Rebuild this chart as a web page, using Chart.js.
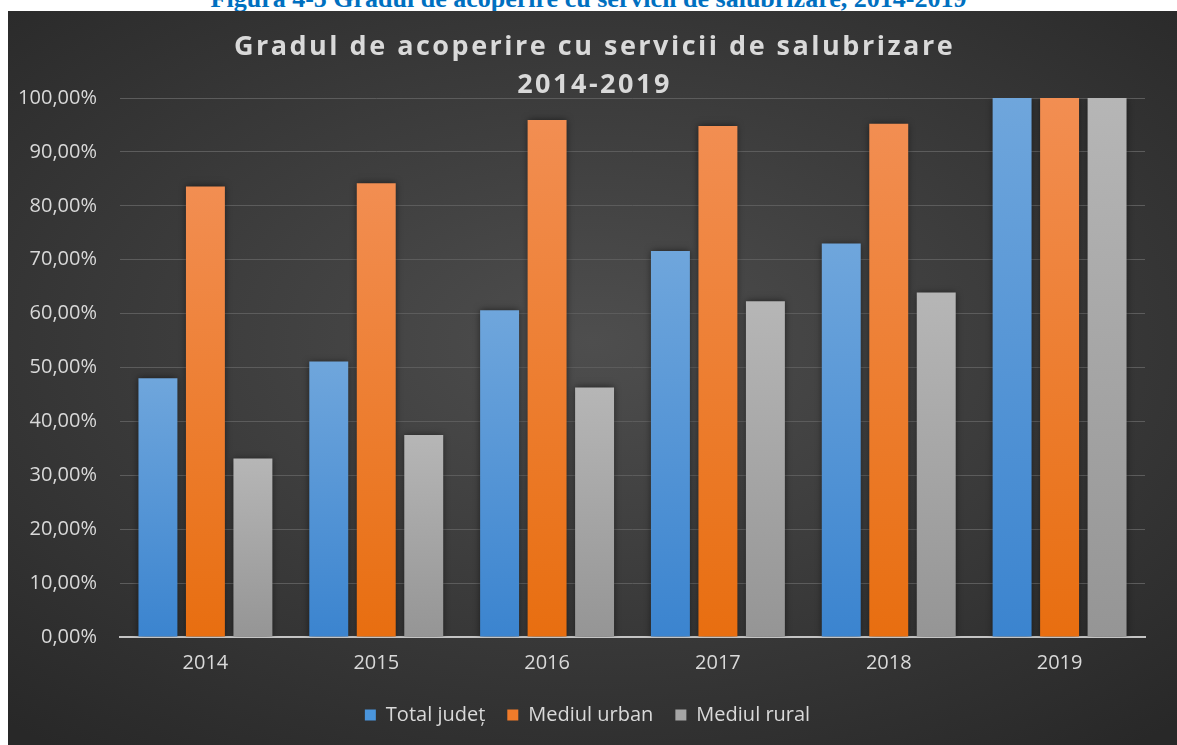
<!DOCTYPE html>
<html>
<head>
<meta charset="utf-8">
<script src="https://cdn.jsdelivr.net/npm/chart.js@4.4.1/dist/chart.umd.min.js"></script>
<style>
  html,body{margin:0;padding:0;background:#fff;width:1177px;height:745px;overflow:hidden;}
  #caption{position:absolute;left:0;width:1177px;top:-14px;text-align:center;
    font:bold 26px/26px "Liberation Serif","Times New Roman",serif;color:#0070c0;z-index:0;white-space:nowrap;}
  #box{position:absolute;left:8px;top:11px;width:1169px;height:734px;z-index:1;
    background:radial-gradient(ellipse 75% 70% at 50% 45%, #4e4e4e 0%, #3b3b3b 50%, #282828 100%);}
  #box canvas{position:absolute;left:0;top:0;}
</style>
</head>
<body>
<div id="caption">Figura 4-5 Gradul de acoperire cu servicii de salubrizare, 2014-2019</div>
<div id="box"><canvas id="c" width="1169" height="734"></canvas></div>
<script>
// ----- data -----
const years = ["2014","2015","2016","2017","2018","2019"];
const totalJudet  = [48.0, 51.1, 60.6, 71.6, 73.0, 100];
const mediulUrban = [83.6, 84.2, 95.9, 94.8, 95.2, 100];
const mediulRural = [33.1, 37.5, 46.3, 62.3, 63.9, 100];
const seriesNames = ["Total județ","Mediul urban","Mediul rural"];
const yTicksMax = 100, yStep = 10;

const TXT = "#d9d9d9";
const FONT = "'Open Sans', 'Noto Sans', sans-serif";

// gradient per bar, from its own top to the baseline
function barGrad(top, bottom){
  return (ctx)=>{
    const ch = ctx.chart, y = ch.scales.y;
    if(!ch.chartArea || ctx.raw==null) return bottom;
    const y0 = y.getPixelForValue(0), y1 = y.getPixelForValue(ctx.raw);
    const g = ch.ctx.createLinearGradient(0, y1, 0, y0);
    g.addColorStop(0, top); g.addColorStop(1, bottom);
    return g;
  };
}

// wrap a layout box's draw (title/legend) to nudge it like the original
function wrapBox(box, dx, spacing){
  if(!box || box._wrapped) return;
  const orig = box.draw.bind(box);
  box.draw = function(){
    const c = this.ctx; c.save();
    c.translate(dx, 0);
    if(spacing) c.letterSpacing = spacing;
    orig(); c.restore();
  };
  box._wrapped = true;
}

const extras = {
  id:"extras",
  beforeDraw(chart){
    wrapBox(chart.titleBlock, 18, "2.5px");
    wrapBox(chart.legend, 11, null);
  },
  beforeDatasetsDraw(chart){
    const c = chart.ctx; c.save();
    c.shadowColor = "rgba(0,0,0,0.55)"; c.shadowBlur = 7; c.shadowOffsetX = 0; c.shadowOffsetY = 0;
  },
  afterDatasetsDraw(chart){ chart.ctx.restore(); }
};

const ds = (label, data, top, bottom, legendColor)=>({
  label, data,
  backgroundColor: barGrad(top, bottom),
  legendColor,
  borderWidth: 0,
  categoryPercentage: 0.834,
  barPercentage: 0.82
});

new Chart(document.getElementById("c"), {
  type: "bar",
  data: {
    labels: years,
    datasets: [
      ds(seriesNames[0], totalJudet,  "#6fa6dc", "#3b84cf", "#4a95dc"),
      ds(seriesNames[1], mediulUrban, "#f28e52", "#e86e10", "#f07b2a"),
      ds(seriesNames[2], mediulRural, "#b6b6b6", "#959595", "#a6a6a6")
    ]
  },
  plugins: [extras],
  options: {
    responsive: false,
    animation: false,
    devicePixelRatio: 1,
    layout: { padding: { left: 0, right: 32, top: 0, bottom: 10 } },
    plugins: {
      title: {
        display: true,
        text: ["Gradul de acoperire cu servicii de salubrizare", "2014-2019"],
        color: TXT,
        font: { family: FONT, size: 27, weight: "bold", lineHeight: "38px" },
        padding: { top: 17, bottom: -6 }
      },
      legend: {
        position: "bottom",
        labels: {
          color: TXT,
          font: { family: FONT, size: 20 },
          boxWidth: 11, boxHeight: 11,
          padding: 22,
          generateLabels(chart){
            return chart.data.datasets.map((d,i)=>({
              text: d.label, fillStyle: d.legendColor, strokeStyle: d.legendColor,
              lineWidth: 0, fontColor: TXT, datasetIndex: i, hidden: false
            }));
          }
        }
      },
      tooltip: { enabled: false }
    },
    scales: {
      x: {
        grid: { display: false },
        border: { display: true, color: "#c4c4c4", width: 2 },
        ticks: { color: TXT, font: { family: FONT, size: 20 }, padding: 6 },
        afterFit(s){ s.height = 46; }
      },
      y: {
        min: 0, max: yTicksMax,
        grid: { color: "#5c5c5c", lineWidth: 1, drawTicks: false },
        border: { display: false },
        ticks: {
          stepSize: yStep, color: TXT, padding: 23,
          font: { family: FONT, size: 20 },
          callback: (v)=> v.toFixed(2).replace(".", ",") + "%"
        },
        afterFit(s){ s.width = 112; }
      }
    }
  }
});
</script>
</body>
</html>
